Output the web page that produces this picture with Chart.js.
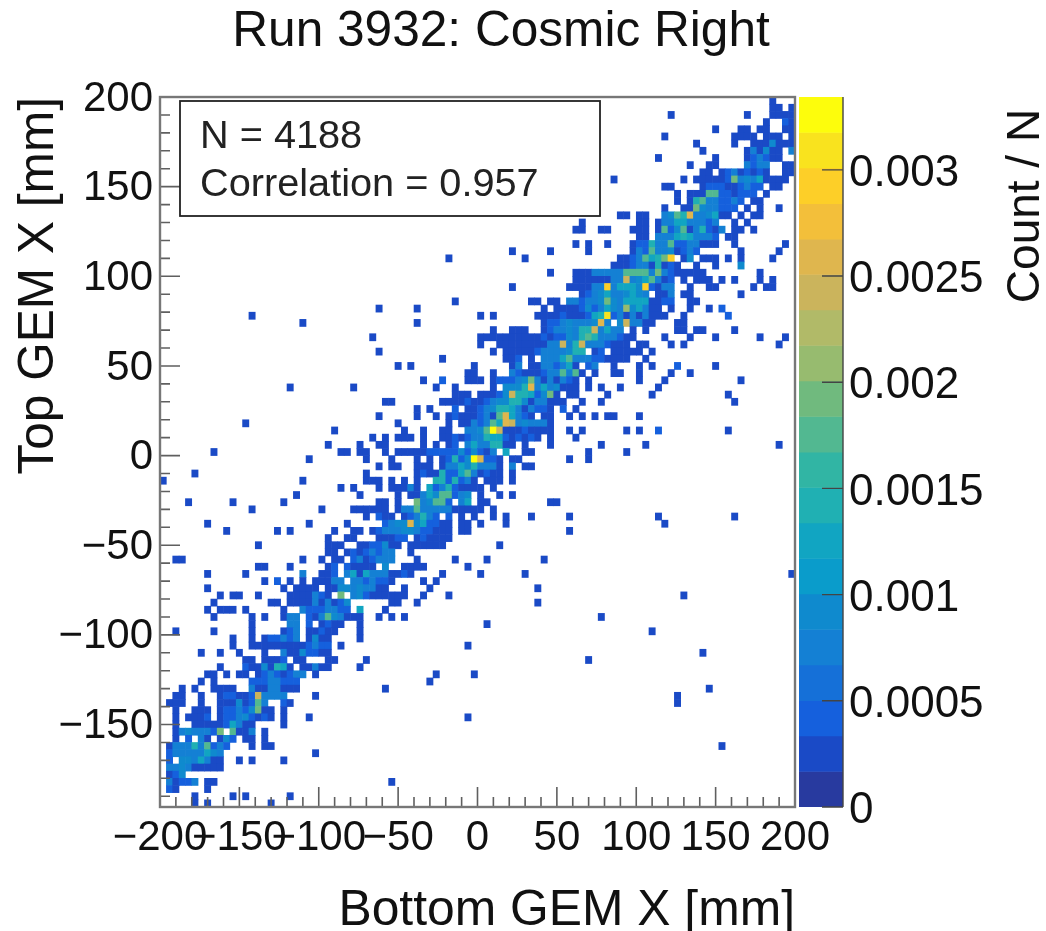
<!DOCTYPE html>
<html>
<head>
<meta charset="utf-8">
<title>Run 3932: Cosmic Right</title>
<script src="https://cdn.jsdelivr.net/npm/chart.js@4/dist/chart.umd.js"></script>
<style>
    html, body { margin: 0; padding: 0; background: #fff; }
    #wrap { position: relative; width: 1046px; height: 931px; overflow: hidden; }
    #wrap canvas { position: absolute; top: 0; filter: blur(0.45px); }
    #heat-chart { left: 0; }
    #color-bar { left: 799px; }
</style>
</head>
<body>
<div id="wrap">
    <canvas id="heat-chart" width="1046" height="931"></canvas>
    <canvas id="color-bar" width="247" height="931"></canvas>
</div>
<script>
const totalEvents = 4188;
const correlation = 0.957;
const axisTicks = [-200, -150, -100, -50, 0, 50, 100, 150, 200];

// each entry is [row from top, first column from left, counts as hex digits], bins are 4 mm
const cellsTop = [
    [0,96,"1"],[1,96,"11"],[1,99,"1"],[2,80,"1"],[2,92,"1"],[2,96,"1111"],[3,95,"1"],[3,98,"21"],
    [4,87,"1"],[4,91,"11"],[4,94,"11"],[4,98,"11"],[5,79,"1"],[5,90,"1111"],[5,95,"111"],[5,99,"1"],
    [6,84,"1"],[6,90,"1"],[6,93,"1114111"],[7,85,"1"],[7,92,"131411"],[7,99,"3"],
    [8,78,"1"],[8,87,"1"],[8,92,"123211"],[9,83,"1"],[9,86,"11"],[9,92,"3233"],[9,98,"11"],
    [10,85,"11"],[10,88,"12312121"],[10,98,"11"],[11,71,"1"],[11,82,"1"],[11,84,"11111"],[11,89,"2834351111"],
    [12,79,"11"],[12,85,"1222112322"],[12,96,"11"],[13,81,"1"],[13,83,"11177221222"],[13,95,"1"],
    [14,81,"1"],[14,83,"167332232"],[14,93,"11"],[15,79,"1"],[15,82,"11"],[15,84,"8433222"],[15,92,"1"],[15,94,"1"],[15,97,"1"],
    [16,72,"11"],[16,75,"11"],[16,79,"3476b334511"],[16,91,"1"],[16,93,"11"],
    [17,66,"1"],[17,75,"11"],[17,78,"1335533323"],[17,90,"1"],[17,92,"1"],
    [18,65,"11"],[18,69,"11"],[18,74,"111"],[18,78,"17247136213"],[18,90,"11"],[18,93,"1"],
    [19,75,"11"],[19,78,"3335653332"],[19,89,"11"],
    [20,65,"1"],[20,67,"1"],[20,70,"1"],[20,74,"12263372233111"],[20,90,"1"],[20,98,"1"],
    [21,55,"1"],[21,61,"1"],[21,67,"1"],[21,74,"13273341232"],[21,91,"1"],[21,97,"1"],
    [22,45,"1"],[22,57,"1"],[22,72,"11"],[22,74,"237568c"],[22,82,"14"],[22,85,"111"],[22,89,"1"],[22,91,"1"],[22,96,"1"],
    [23,71,"111"],[23,74,"23316121"],[23,84,"1"],[23,87,"1"],[23,91,"4"],
    [24,61,"1"],[24,65,"111"],[24,68,"333337777383211111"],[24,94,"1"],
    [25,65,"111"],[25,68,"11133a3457312"],[25,82,"1"],[25,84,"111"],[25,88,"1"],[25,90,"1"],[25,94,"1"],[25,96,"1"],
    [26,55,"1"],[26,64,"1111"],[26,68,"33c35554c2133"],[26,83,"1"],[26,86,"11"],[26,93,"1"],[26,95,"11"],
    [27,66,"12"],[27,68,"345334543"],[27,78,"113"],[27,82,"11"],[27,91,"1"]
];
const cellsUpperMiddle = [
    [28,46,"1"],[28,58,"11"],[28,61,"11"],[28,64,"332334843555511"],[28,79,"22"],[28,83,"11"],
    [29,34,"1"],[29,40,"1"],[29,60,"1"],[29,62,"11112423543945311"],[29,80,"1"],[29,83,"1"],[29,86,"1"],[29,88,"2"],
    [30,14,"1"],[30,50,"1"],[30,52,"1"],[30,59,"11112111256d231313111"],[30,82,"1"],[30,89,"2"],
    [31,22,"1"],[31,40,"1"],[31,60,"122343334b3"],[31,72,"4a33"],[31,76,"11"],[31,81,"11"],
    [32,52,"1"],[32,55,"111"],[32,60,"12334366a3533"],[32,74,"1"],[32,76,"1"],[32,81,"11"],[32,84,"11"],[32,90,"1"],
    [33,33,"1"],[33,50,"1111111111212243676333211"],[33,79,"1"],[33,83,"1"],[33,87,"1"],[33,94,"1"],[33,98,"1"],
    [34,50,"1"],[34,53,"1111111"],[34,60,"133a36a3332111"],[34,75,"11"],[34,80,"1"],[34,82,"1"],[34,97,"1"],
    [35,34,"1"],[35,52,"1"],[35,54,"1111123333466"],[35,68,"12"],[35,71,"11111"],[35,77,"1"],
    [36,44,"1"],[36,54,"112"],[36,58,"1"],[36,60,"33357333221111"],[36,76,"1"],
    [37,37,"1"],[37,39,"1"],[37,49,"1"],[37,55,"13"],[37,58,"11"],[37,60,"332351"],[37,67,"23"],[37,71,"1"],[37,75,"1"],[37,77,"1"],[37,81,"2"],[37,87,"1"],
    [38,48,"11"],[38,52,"1"],[38,55,"321112337371"],[38,68,"1"],[38,71,"11"],[38,75,"1"],[38,80,"1"],[38,83,"1"],
    [39,41,"1"],[39,44,"2"],[39,48,"111"],[39,52,"12223483131321"],[39,67,"1"],[39,75,"1"],[39,79,"1"],[39,91,"1"],
    [40,20,"1"],[40,30,"1"],[40,43,"1"],[40,46,"1"],[40,52,"1"],[40,54,"4446b3534111"],[40,67,"1"],[40,69,"1"],[40,72,"1"],[40,78,"1"],
    [41,46,"111"],[41,50,"1112"],[41,54,"4a6652481"],[41,64,"11"],[41,70,"1"],[41,77,"1"],[41,89,"1"],
    [42,35,"11"],[42,44,"11112112344664133111"],[42,66,"1"],[42,69,"1"],[42,90,"1"],
    [43,40,"1"],[43,42,"1"],[43,46,"2"],[43,48,"11234665313221"],[43,63,"2"],[43,65,"1"],
    [44,34,"1"],[44,40,"1"],[44,43,"1"],[44,45,"1"],[44,46,"21112317b5321"],[44,60,"11"],[44,64,"1"],[44,66,"1"],[44,68,"1"],[44,70,"11"],[44,75,"1"],
    [45,13,"1"],[45,37,"1"],[45,45,"1"],[45,47,"1132375ba343331"],
    [46,27,"1"],[46,38,"1"],[46,41,"1"],[46,44,"11"],[46,48,"3347ea11121111"],[46,64,"1"],[46,66,"1"],[46,73,"1"],[46,75,"1"],[46,78,"2"],[46,89,"1"],
    [47,33,"1"],[47,35,"1"],[47,37,"111"],[47,41,"1"],[47,44,"112"],[47,47,"1233655212121"],[47,61,"1"],[47,65,"1"],
    [48,26,"1"],[48,31,"1"],[48,34,"11"],[48,41,"1"],[48,43,"1"],[48,45,"12"],[48,48,"35336611"],[48,57,"1"],[48,61,"1"],[48,69,"1"],[48,76,"1"],[48,97,"1"],
    [49,8,"1"],[49,28,"11"],[49,31,"11"],[49,35,"1"],[49,37,"11111"],[49,42,"2222"],[49,46,"2424213"],[49,54,"5"],[49,57,"11"],[49,67,"1"],[49,73,"1"],
    [50,23,"1"],[50,32,"1"],[50,36,"1"],[50,40,"1"],[50,42,"1"],[50,44,"12"],[50,46,"624eb221"],[50,55,"11"],[50,64,"1"],[50,67,"1"]
];
const cellsLowerMiddle = [
    [51,34,"1"],[51,36,"11"],[51,40,"111"],[51,44,"13"],[51,46,"35463331"],[51,55,"3"],[51,57,"11"],
    [52,5,"1"],[52,32,"1"],[52,40,"1211"],[52,44,"62"],[52,46,"25731211"],[52,55,"1"],
    [53,0,"1"],[53,22,"1"],[53,32,"111"],[53,36,"1"],[53,38,"1"],[53,40,"1"],[53,43,"6626231"],[53,51,"111"],[53,55,"1"],
    [54,28,"1"],[54,30,"1"],[54,34,"1"],[54,36,"111"],[54,39,"31"],[54,42,"523621111"],[54,52,"1"],
    [55,21,"1"],[55,31,"1"],[55,37,"1"],[55,39,"11"],[55,41,"35477234"],[55,50,"1"],[55,53,"1"],[55,55,"1"],
    [56,4,"1"],[56,11,"1"],[56,19,"1"],[56,34,"11"],[56,37,"1"],[56,40,"834772"],[56,47,"35"],[56,50,"11"],[56,61,"11"],
    [57,14,"1"],[57,25,"1"],[57,30,"111111"],[57,37,"13373333311111"],[57,52,"1"],
    [58,32,"1"],[58,34,"211"],[58,38,"123632"],[58,45,"2"],[58,47,"1"],[58,49,"1"],[58,52,"1"],[58,54,"1"],[58,58,"1"],[58,64,"1"],[58,78,"1"],[58,90,"1"],
    [59,7,"1"],[59,23,"1"],[59,29,"1"],[59,35,"2344b452211"],[59,47,"11"],[59,50,"1"],[59,54,"1"],[59,79,"1"],
    [60,10,"1"],[60,18,"1"],[60,20,"1"],[60,27,"1"],[60,30,"11"],[60,33,"1"],[60,34,"233344322111"],[60,47,"11"],[60,64,"1"],
    [61,26,"1"],[61,29,"11"],[61,34,"111"],[61,37,"22"],[61,40,"121111"],
    [62,15,"1"],[62,26,"11"],[62,28,"1"],[62,31,"11"],[62,33,"22411"],[62,39,"11111"],[62,44,"1"],[62,53,"1"],
    [63,26,"11"],[63,29,"12123233"],[63,39,"1"],
    [64,2,"11"],[64,22,"1"],[64,25,"1"],[64,27,"11"],[64,30,"2312333"],[64,40,"1"],[64,46,"1"],[64,51,"1"],[64,60,"1"],
    [65,15,"11"],[65,20,"1"],[65,26,"12"],[65,29,"21"],[65,31,"111"],[65,35,"4"],[65,38,"111"],[65,41,"1"],[65,48,"1"],
    [66,7,"1"],[66,13,"1"],[66,22,"3"],[66,25,"112"],[66,29,"35153331"],[66,37,"121"],[66,44,"1"],[66,50,"1"],[66,57,"1"],[66,99,"1"],
    [67,16,"1"],[67,18,"2"],[67,20,"1"],[67,22,"1"],[67,24,"11133"],[67,30,"3323221"],[67,41,"1"],[67,43,"1"],
    [68,7,"1"],[68,19,"1"],[68,21,"1111"],[68,26,"1144343311"],[68,38,"1"],[68,42,"1"],[68,59,"1"],
    [69,9,"1"],[69,11,"11"],[69,15,"1"],[69,20,"1111"],[69,24,"321"],[69,28,"8"],[69,30,"342"],[69,33,"11"],[69,35,"1111"],[69,41,"1"],[69,45,"1"],[69,82,"1"],
    [70,8,"1"],[70,17,"11"],[70,20,"1111"],[70,24,"313124"],[70,36,"11"],[70,40,"1"],[70,59,"1"],
    [71,7,"1"],[71,9,"111"],[71,13,"1"],[71,19,"1"],[71,22,"32223322"],[71,31,"5"],[71,35,"1"],
    [72,8,"1"],[72,14,"1"],[72,16,"1"],[72,19,"133"],[72,23,"21"],[72,25,"3743111"],[72,34,"1"],[72,36,"1"],[72,38,"1"],[72,69,"1"]
];
const cellsBottom = [
    [73,14,"1"],[73,20,"33"],[73,23,"2"],[73,25,"1211"],[73,31,"1"],[73,51,"1"],
    [74,2,"1"],[74,8,"1"],[74,14,"1"],[74,19,"123"],[74,23,"11211"],[74,31,"1"],[74,77,"1"],
    [75,11,"1"],[75,14,"1"],[75,16,"122323"],[75,23,"1411"],[75,31,"1"],
    [76,11,"1"],[76,14,"1111111112322"],[76,28,"1"],[76,48,"1"],
    [77,6,"1"],[77,9,"1"],[77,12,"1"],[77,16,"1"],[77,19,"31142211"],[77,85,"1"],
    [78,13,"11"],[78,16,"111"],[78,19,"2"],[78,21,"11"],[78,26,"11"],[78,32,"1"],[78,67,"1"],
    [79,9,"1"],[79,13,"21141651"],[79,22,"11"],[79,24,"3"],[79,25,"11"],[79,31,"1"],
    [80,7,"11"],[80,10,"1"],[80,12,"11"],[80,15,"1"],[80,16,"2321233"],[80,24,"1"],[80,43,"1"],[80,49,"1"],
    [81,6,"1"],[81,8,"1"],[81,14,"22"],[81,16,"233222"],[81,42,"1"],
    [82,3,"1"],[82,5,"1"],[82,8,"1111"],[82,14,"31"],[82,16,"133111"],[82,35,"1"],[82,86,"1"],
    [83,2,"11"],[83,6,"1"],[83,9,"12211"],[83,14,"2a3333"],[83,24,"1"],[83,81,"1"],
    [84,1,"111"],[84,6,"1"],[84,9,"111"],[84,12,"412"],[84,15,"73"],[84,19,"21"],[84,81,"1"],
    [85,2,"1"],[85,5,"111"],[85,9,"122324811"],[85,19,"1"],
    [86,2,"1"],[86,4,"1112"],[86,9,"122342121"],[86,19,"1"],[86,23,"1"],[86,48,"1"],
    [87,2,"1"],[87,5,"11111"],[87,10,"25311"],[87,19,"1"],
    [88,2,"1343332"],[88,9,"8"],[88,11,"711"],[88,14,"3"],[88,16,"1"],
    [89,2,"1"],[89,4,"2"],[89,6,"31"],[89,9,"142"],[89,13,"11"],[89,16,"1"],
    [90,1,"1333637232"],[90,14,"1"],[90,16,"11"],[90,88,"1"],
    [91,1,"233333543"],[91,24,"1"],
    [92,1,"2"],[92,3,"4435311"],[92,12,"1"],[92,14,"1"],[92,19,"1"],
    [93,1,"334311111"],[94,1,"124"],
    [95,1,"31223"],[95,7,"11"],[95,36,"1"],
    [96,1,"21"],[96,7,"1"],
    [97,5,"1"],[97,11,"1"],[97,13,"1"],[97,20,"1"],
    [98,5,"1"],[98,7,"1"],[98,17,"1"]
];

// colour bar contours, bottom to top
const contourLevels = [0, 0.000167, 0.000334, 0.000501, 0.000669, 0.000836, 0.001003, 0.00117, 0.001337, 0.001504,
    0.001671, 0.001839, 0.002006, 0.002173, 0.00234, 0.002507, 0.002674, 0.002841, 0.003009, 0.003176, 0.003343];
const contourColors = ['#283a9f', '#1a4ac6', '#1560dd', '#1570d8', '#1480d4', '#0f8ace', '#0a9ccb', '#11a5c2', '#20b0b3', '#31b5a4',
    '#52b891', '#70ba7e', '#97bb6f', '#b1ba68', '#cbb45c', '#dfb64e', '#f3bf3a', '#fdcf28', '#f9e31e', '#fdfd0c'];

const FONT = '"Liberation Sans", Arial, sans-serif';
const INK = '#111';
const TICK_COLOR = '#5f5f5f';

function colorForValue(value) {
    let band = 0;
    for (let i = 0; i < contourColors.length; i++) {
        if (value >= contourLevels[i]) band = i;
    }
    return contourColors[band];
}

function buildCells() {
    const points = [];
    [cellsTop, cellsUpperMiddle, cellsLowerMiddle, cellsBottom].forEach(group => {
        group.forEach(([row, col, counts]) => {
            counts.split('').forEach((digit, i) => {
                const left = -200 + 4 * (col + i);
                const top = 200 - 4 * row;
                points.push({ x: left + 2, y: [top - 4, top], value: parseInt(digit, 16) / totalEvents });
            });
        });
    });
    return points;
}

function formatMm(v) {
    return v < 0 ? '\u2212' + Math.abs(v) : String(v);
}

// ROOT style frame with ticks pointing into the plot
const framePlugin = {
    id: 'rootFrame',
    afterLayout(chart) {
        // title is centred on the whole pad, not on the plot
        chart.titleBlock.left = 0;
        chart.titleBlock.right = 1002;
    },
    afterDraw(chart) {
        const { ctx, chartArea: area, scales: { x, y } } = chart;
        ctx.save();
        ctx.strokeStyle = TICK_COLOR;
        ctx.lineWidth = 1.6;
        ctx.beginPath();
        for (let v = -200; v <= 200; v += 10) {
            const len = v % 50 === 0 ? 20 : 10;
            const px = x.getPixelForValue(v);
            ctx.moveTo(px, area.bottom);
            ctx.lineTo(px, area.bottom - len);
            if (v >= -190) {
                const py = y.getPixelForValue(v);
                ctx.moveTo(area.left, py);
                ctx.lineTo(area.left + len, py);
            }
        }
        ctx.stroke();
        ctx.lineWidth = 2.4;
        ctx.strokeStyle = '#777';
        ctx.strokeRect(area.left, area.top, area.right - area.left, area.bottom - area.top);

        // stats box
        ctx.fillStyle = '#fff';
        ctx.fillRect(180, 101, 420, 115);
        ctx.strokeStyle = '#222';
        ctx.lineWidth = 1.8;
        ctx.strokeRect(180, 101, 420, 115);
        ctx.fillStyle = '#222';
        ctx.font = '39.7px ' + FONT;
        ctx.textBaseline = 'middle';
        ctx.textAlign = 'left';
        ctx.fillText('N = ' + totalEvents, 200, 137);
        ctx.fillText('Correlation = ' + correlation, 200, 185);
        ctx.restore();
    }
};

const colorBarPlugin = {
    id: 'colorBarFrame',
    afterDraw(chart) {
        const { ctx, chartArea: area, scales: { y } } = chart;
        ctx.save();
        ctx.strokeStyle = '#444';
        ctx.lineWidth = 1.4;
        ctx.beginPath();
        y.ticks.forEach(t => {
            const py = y.getPixelForValue(t.value);
            ctx.moveTo(area.right, py);
            ctx.lineTo(area.right - 21, py);
        });
        ctx.moveTo(area.right, area.top);
        ctx.lineTo(area.right, area.bottom);
        ctx.stroke();

        ctx.translate(227, 206);
        ctx.rotate(-Math.PI / 2);
        ctx.fillStyle = INK;
        ctx.font = '46px ' + FONT;
        ctx.textAlign = 'center';
        ctx.textBaseline = 'middle';
        ctx.fillText('Count / N', 0, 0);
        ctx.restore();
    }
};

document.addEventListener('DOMContentLoaded', function() {
    Chart.defaults.font.family = FONT;
    Chart.defaults.color = INK;

    const heatCtx = document.getElementById('heat-chart').getContext('2d');
    new Chart(heatCtx, {
        type: 'bar',
        data: {
            datasets: [{
                label: 'Count / N',
                data: buildCells(),
                backgroundColor: c => colorForValue(c.raw ? c.raw.value : 0),
                borderWidth: 0,
                borderSkipped: false,
                inflateAmount: 0.3,
                barThickness: 6.34
            }]
        },
        options: {
            responsive: false,
            animation: false,
            layout: { padding: { right: 251 } },
            plugins: {
                legend: { display: false },
                tooltip: { enabled: false },
                title: {
                    display: true,
                    text: 'Run 3932: Cosmic Right',
                    color: INK,
                    font: { size: 49.6, weight: 'normal', lineHeight: 1.2 },
                    padding: { top: 3, bottom: 34.5 }
                }
            },
            scales: {
                x: {
                    type: 'linear',
                    min: -200,
                    max: 200,
                    offset: false,
                    grid: { display: false, drawTicks: false },
                    border: { display: false },
                    afterFit(scale) { scale.height = 124; },
                    afterBuildTicks(scale) { scale.ticks = axisTicks.map(value => ({ value })); },
                    ticks: {
                        autoSkip: false,
                        minRotation: 0,
                        maxRotation: 0,
                        padding: 6,
                        font: { size: 42 },
                        callback: formatMm
                    },
                    title: {
                        display: true,
                        text: 'Bottom GEM X [mm]',
                        align: 'end',
                        color: INK,
                        font: { size: 49.8, lineHeight: 0.8 },
                        padding: 0
                    }
                },
                y: {
                    type: 'linear',
                    min: -196,
                    max: 200,
                    grid: { display: false, drawTicks: false },
                    border: { display: false },
                    afterFit(scale) { scale.width = 160; },
                    afterBuildTicks(scale) { scale.ticks = axisTicks.filter(v => v >= -196).map(value => ({ value })); },
                    ticks: {
                        autoSkip: false,
                        padding: 7,
                        labelOffset: 2,
                        font: { size: 42 },
                        callback: formatMm
                    },
                    title: {
                        display: true,
                        text: 'Top GEM X [mm]',
                        align: 'end',
                        color: INK,
                        font: { size: 49.6, lineHeight: 1 },
                        padding: { top: 15, bottom: 0 }
                    }
                }
            }
        },
        plugins: [framePlugin]
    });

    const barCtx = document.getElementById('color-bar').getContext('2d');
    new Chart(barCtx, {
        type: 'bar',
        data: {
            datasets: [{
                label: 'Contours',
                data: contourColors.map((color, i) => ({ x: 0.5, y: [contourLevels[i], contourLevels[i + 1]] })),
                backgroundColor: contourColors,
                borderWidth: 0,
                borderSkipped: false,
                inflateAmount: 0.3,
                barThickness: 44
            }]
        },
        options: {
            responsive: false,
            animation: false,
            layout: { padding: { top: 97, bottom: 124 } },
            plugins: { legend: { display: false }, tooltip: { enabled: false } },
            scales: {
                x: { type: 'linear', min: 0, max: 1, display: false },
                y: {
                    type: 'linear',
                    position: 'right',
                    min: 0,
                    max: contourLevels[contourLevels.length - 1],
                    grid: { display: false, drawTicks: false },
                    border: { display: false },
                    afterFit(scale) { scale.width = 203; },
                    ticks: {
                        stepSize: 0.0005,
                        includeBounds: false,
                        padding: 6,
                        labelOffset: 4,
                        font: { size: 44 },
                        callback: v => String(+v.toFixed(4))
                    }
                }
            }
        },
        plugins: [colorBarPlugin]
    });
});
</script>
</body>
</html>
